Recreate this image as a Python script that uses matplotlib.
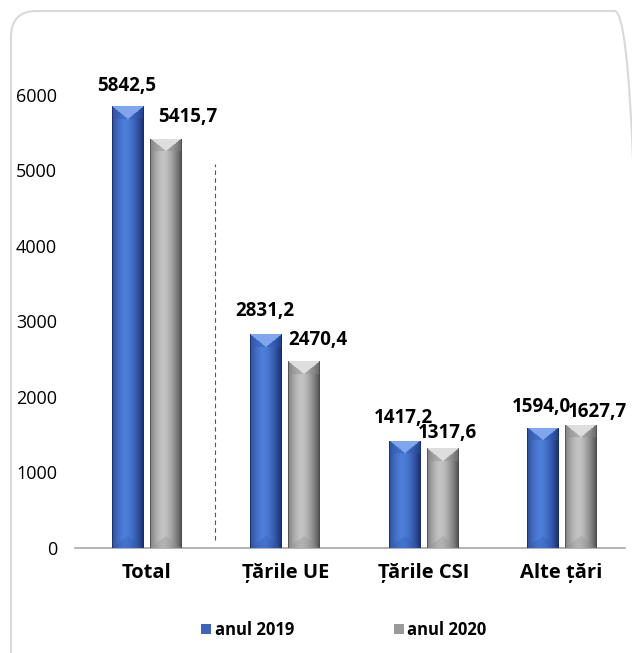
import numpy as np
import matplotlib
matplotlib.use("Agg")
import matplotlib.pyplot as plt
from matplotlib.patches import FancyBboxPatch
from matplotlib.colors import to_rgb

plt.rcParams['font.family'] = ['Open Sans', 'DejaVu Sans']

categories = ["Total", "Țările UE", "Țările CSI", "Alte țări"]
series_names = ["anul 2019", "anul 2020"]
values_2019 = [5842.5, 2831.2, 1417.2, 1594.0]
values_2020 = [5415.7, 2470.4, 1317.6, 1627.7]
label_2019 = ["5842,5", "2831,2", "1417,2", "1594,0"]
label_2020 = ["5415,7", "2470,4", "1317,6", "1627,7"]
yticks = [0, 1000, 2000, 3000, 4000, 5000, 6000]

# label offsets in points (dx from bar centre, dy of baseline above bar top)
off_2019 = [(-0.7, 11.5), (-1, 12.7), (-1, 13), (-0.7, 11.5)]
off_2020 = [(15.5, 12.2), (9.7, 11.5), (3.6, 7.2), (12.2, 5.8)]

W, H = 632, 653
fig = plt.figure(figsize=(W / 100, H / 100), dpi=100)
fig.patch.set_facecolor("white")

# rounded frame
frame = FancyBboxPatch((11 / W, -30 / H), (640 - 11) / W, (642 + 30) / H,
                       boxstyle="round,pad=0,rounding_size=0.04",
                       transform=fig.transFigure, facecolor="none",
                       edgecolor="#d9d9d9", linewidth=1.5, zorder=-5)
fig.patches.append(frame)

ax = fig.add_axes([75 / W, 1 - 548 / H, (625 - 75) / W, (548 - 19) / H])
ax.set_facecolor("none")
x = np.arange(len(categories))
bw = 0.228
shift = 0.1375

px_per_unit = 75.45 / 1000.0

def bar_image(h, kind):
    ny = max(int(h * px_per_unit), 4)
    nx = 40
    u = (np.arange(nx) + 0.5) / nx
    d = np.arange(ny)[:, None] + 0.5
    db = (ny - np.arange(ny))[:, None] - 0.5
    if kind == "blue":
        dark = np.array(to_rgb("#1a3278"))
        light = np.array(to_rgb("#4d7fd9"))
        tri = np.array(to_rgb("#7fa6ee"))
        side = np.array(to_rgb("#2e56b0"))
    else:
        dark = np.array(to_rgb("#555555"))
        light = np.array(to_rgb("#c4c4c4"))
        tri = np.array(to_rgb("#dedede"))
        side = np.array(to_rgb("#8a8a8a"))
    prof = np.clip(1 - np.abs((u - 0.42) / 0.55) ** 1.6, 0, 1)
    base = dark[None, :] + (light - dark)[None, :] * prof[:, None]
    img = np.repeat(base[None, :, :], ny, axis=0)
    depth = 13.0
    vshape = depth * (1 - np.abs(2 * u - 1))[None, :]
    top_tri = np.broadcast_to(d < vshape, (ny, nx))
    top_side = np.broadcast_to(d < depth, (ny, nx)) & ~top_tri
    img[top_tri] = tri
    img[top_side] = img[top_side] * 0.6 + side * 0.4
    bdepth = 12.0
    bot_tri = np.broadcast_to(db < bdepth * (1 - np.abs(2 * u - 1))[None, :], (ny, nx))
    img[bot_tri] = img[bot_tri] * 0.7 + side * 0.3
    img[:, 0] = dark * 0.85
    img[:, -1] = dark * 0.85
    return img

bars1 = ax.bar(x - shift, values_2019, bw, color="#3a64c0",
               label=series_names[0], zorder=2)
bars2 = ax.bar(x + shift, values_2020, bw, color="#9a9a9a",
               label=series_names[1], zorder=2)

for bars, kind in ((bars1, "blue"), (bars2, "gray")):
    for p in bars.patches:
        x0, w, h = p.get_x(), p.get_width(), p.get_height()
        img = bar_image(h, kind)
        im = ax.imshow(img, extent=[x0, x0 + w, 0, h], aspect="auto",
                       interpolation="bilinear", zorder=3)
        im.set_clip_path(p)

for bars, labs, offs in ((bars1, label_2019, off_2019), (bars2, label_2020, off_2020)):
    for p, t, (dx, dy) in zip(bars.patches, labs, offs):
        ax.annotate(t, (p.get_x() + p.get_width() / 2, p.get_height()),
                    xytext=(dx, dy), textcoords="offset points",
                    ha="center", va="baseline", fontsize=13.5,
                    fontweight="bold", color="black", zorder=5,
                    annotation_clip=False)

# dashed separator
ax.plot([0.49, 0.49], [100, 5080], ls=(0, (4, 3)), color="#555555", lw=0.8, zorder=1)

ax.set_xlim(-0.521, 3.459)
ax.set_ylim(0, 7000)
ax.set_yticks(yticks)
ax.set_yticklabels([str(v) for v in yticks], fontsize=13)
ax.set_xticks(x)
ax.set_xticklabels(categories, fontsize=14.5, fontweight="bold")
ax.tick_params(axis="y", length=0, pad=13)
ax.tick_params(axis="x", length=0, pad=11)
for s in ("top", "right", "left"):
    ax.spines[s].set_visible(False)
ax.spines["bottom"].set_color("#a6a6a6")
ax.spines["bottom"].set_linewidth(1.2)

leg = fig.legend(handles=[bars1, bars2], labels=series_names, loc="center",
                 bbox_to_anchor=(344 / W, 1 - 630 / H), ncol=2, frameon=False,
                 prop={"size": 12, "weight": "bold"}, handlelength=0.6,
                 handleheight=0.6, handletextpad=0.2, columnspacing=6.0)

fig.savefig("out.png", dpi=100)
